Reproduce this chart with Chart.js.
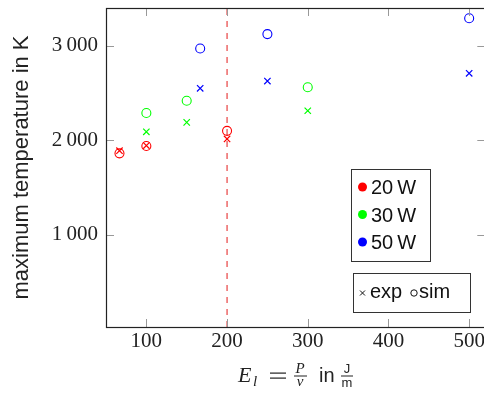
<!DOCTYPE html>
<html>
<head>
<meta charset="utf-8">
<script src="https://cdn.jsdelivr.net/npm/chart.js@4.4.1/dist/chart.umd.min.js"></script>
<style>
html,body{margin:0;padding:0;background:#fff;overflow:hidden;width:484px;height:397px;}
canvas{display:block;}
</style>
</head>
<body>
<canvas id="c" width="491" height="397"></canvas>
<script>
// ---- data ----
const energy20 = [66.7, 100, 200];
const exp20 = [1890, 1945, 2015];
const sim20 = [1862, 1940, 2100];
const energy30 = [100, 150, 300];
const exp30 = [2090, 2190, 2313];
const sim30 = [2289, 2419, 2561];
const energy50 = [166.7, 250, 500];
const exp50 = [2550, 2627, 2709];
const sim50 = [2972, 3124, 3291];
const thresholdEnergy = 200;
const xTicks = [100, 200, 300, 400, 500];
const yTicks = [1000, 2000, 3000];
const xRange = [50, 520];
const yRange = [25, 3400];
const powerLabels = ['20\u2009W', '30\u2009W', '50\u2009W'];
const powerColors = ['#ff0000', '#00ff00', '#0000ff'];

const pts = (xs, ys) => xs.map((x, i) => ({x: x, y: ys[i]}));
function simSet(xs, ys, c){return {data: pts(xs, ys), pointStyle:'circle', borderColor:c, backgroundColor:'rgba(0,0,0,0)', pointRadius:4.5, pointBorderWidth:1.1, showLine:false};}
function expSet(xs, ys, c){return {data: pts(xs, ys), pointStyle:'crossRot', borderColor:c, backgroundColor:c, pointRadius:4.5, pointBorderWidth:1.2, showLine:false};}

const datasets = [
  {type:'line', data:[{x:thresholdEnergy,y:yRange[0]},{x:thresholdEnergy,y:yRange[1]}], borderColor:'#e00000', borderWidth:0.9, borderDash:[6,6], pointRadius:0, fill:false},
  simSet(energy20, sim20, powerColors[0]), expSet(energy20, exp20, powerColors[0]),
  simSet(energy30, sim30, powerColors[1]), expSet(energy30, exp30, powerColors[1]),
  simSet(energy50, sim50, powerColors[2]), expSet(energy50, exp50, powerColors[2])
];

const fmt = v => { const s = String(v); return s.length > 3 ? s.slice(0, s.length-3) + '\u2009' + s.slice(-3) : s; };
const noPad = s => { s.paddingTop = 0; s.paddingBottom = 0; s.paddingLeft = 0; s.paddingRight = 0; };

const decor = {
  id:'decor',
  afterDraw(chart){
    const ctx = chart.ctx, a = chart.chartArea, xs = chart.scales.x, ys = chart.scales.y;
    ctx.save();
    // ticks (inward, all sides)
    ctx.strokeStyle = '#999'; ctx.lineWidth = 1;
    const tl = 8;
    xTicks.forEach(v => { const p = Math.round(xs.getPixelForValue(v)) + 0.5;
      ctx.beginPath(); ctx.moveTo(p, a.bottom); ctx.lineTo(p, a.bottom - tl); ctx.moveTo(p, a.top); ctx.lineTo(p, a.top + tl); ctx.stroke(); });
    yTicks.forEach(v => { const p = Math.round(ys.getPixelForValue(v)) + 0.5;
      ctx.beginPath(); ctx.moveTo(a.left, p); ctx.lineTo(a.left + tl, p); ctx.moveTo(a.right, p); ctx.lineTo(a.right - tl, p); ctx.stroke(); });
    // axis box
    ctx.strokeStyle = '#222'; ctx.lineWidth = 1.2;
    ctx.strokeRect(a.left + 0.5, a.top + 0.5, a.right - a.left - 1, a.bottom - a.top);
    // y title
    ctx.fillStyle = '#222';
    ctx.font = '22px "Liberation Sans", Arial, sans-serif';
    ctx.textAlign = 'center'; ctx.textBaseline = 'middle';
    ctx.save(); ctx.translate(22, (a.top + a.bottom) / 2); ctx.rotate(-Math.PI/2);
    ctx.fillText('maximum temperature in K', 0, 0); ctx.restore();
    // x title: E_l = P/v in J/m
    ctx.textBaseline = 'alphabetic'; ctx.textAlign = 'left';
    const base = 382, axisY = 375.5;
    ctx.font = 'italic 22px "Liberation Serif", serif';
    ctx.fillText('E', 238, base);
    ctx.font = 'italic 15px "Liberation Serif", serif';
    ctx.fillText('l', 253, base + 4);
    ctx.fillRect(270, axisY - 3, 16, 1.2);
    ctx.fillRect(270, axisY + 2, 16, 1.2);
    ctx.textAlign = 'center';
    ctx.font = 'italic 15px "Liberation Serif", serif';
    ctx.fillText('P', 300, axisY - 3);
    ctx.fillText('v', 300, axisY + 10);
    ctx.fillRect(294, axisY, 13, 1);
    ctx.font = '20px "Liberation Sans", Arial, sans-serif';
    ctx.textAlign = 'left';
    ctx.fillText('in', 319, base);
    ctx.textAlign = 'center';
    ctx.font = '13px "Liberation Sans", Arial, sans-serif';
    ctx.fillText('J', 347, axisY - 3);
    ctx.fillText('m', 347, axisY + 11);
    ctx.fillRect(341, axisY, 12, 1);
    // legend 1
    ctx.fillStyle = '#fff'; ctx.fillRect(351, 169, 79, 92);
    ctx.strokeStyle = '#333'; ctx.lineWidth = 1;
    ctx.strokeRect(351.5, 169.5, 79, 92);
    ctx.font = '20px "Liberation Sans", Arial, sans-serif';
    ctx.textAlign = 'left'; ctx.textBaseline = 'alphabetic';
    powerLabels.forEach((lab, i) => {
      const cy = 187 + i * 27.5;
      ctx.fillStyle = powerColors[i];
      ctx.beginPath(); ctx.arc(362.5, cy, 4.5, 0, Math.PI*2); ctx.fill();
      ctx.fillStyle = '#111';
      ctx.fillText(lab, 371, cy + 7);
    });
    // legend 2
    ctx.fillStyle = '#fff'; ctx.fillRect(353, 273, 117, 39);
    ctx.strokeStyle = '#333';
    ctx.strokeRect(353.5, 273.5, 117, 39);
    ctx.strokeStyle = '#111'; ctx.lineWidth = 1;
    const mx = 362.5, my = 293;
    ctx.beginPath(); ctx.moveTo(mx-2.5, my-2.5); ctx.lineTo(mx+2.5, my+2.5); ctx.moveTo(mx+2.5, my-2.5); ctx.lineTo(mx-2.5, my+2.5); ctx.stroke();
    ctx.fillStyle = '#111';
    ctx.fillText('exp', 370, 298);
    ctx.beginPath(); ctx.arc(414, my, 3.2, 0, Math.PI*2); ctx.stroke();
    ctx.fillText('sim', 419, 298);
    ctx.restore();
  }
};

new Chart(document.getElementById('c'), {
  type: 'scatter',
  data: {datasets: datasets},
  options: {
    responsive: false,
    animation: false,
    devicePixelRatio: 1,
    layout: {padding: {top: 8, left: 0, right: 0, bottom: 0}},
    plugins: {legend: {display: false}, tooltip: {enabled: false}},
    scales: {
      x: {
        type: 'linear', min: xRange[0], max: xRange[1],
        grid: {display: false, drawTicks: false}, border: {display: false},
        afterBuildTicks: s => { s.ticks = xTicks.map(v => ({value: v})); },
        afterFit: s => { s.height = 70; noPad(s); },
        ticks: {padding: 2, color: '#222', font: {family: '"Liberation Serif", serif', size: 21}, callback: v => fmt(v), maxRotation: 0, autoSkip: false}
      },
      y: {
        type: 'linear', min: yRange[0], max: yRange[1],
        grid: {display: false, drawTicks: false}, border: {display: false},
        afterBuildTicks: s => { s.ticks = yTicks.map(v => ({value: v})); },
        afterFit: s => { s.width = 106; noPad(s); },
        ticks: {padding: 8, color: '#222', font: {family: '"Liberation Serif", serif', size: 21}, callback: v => fmt(v)}
      }
    }
  },
  plugins: [decor]
});
</script>
</body>
</html>
